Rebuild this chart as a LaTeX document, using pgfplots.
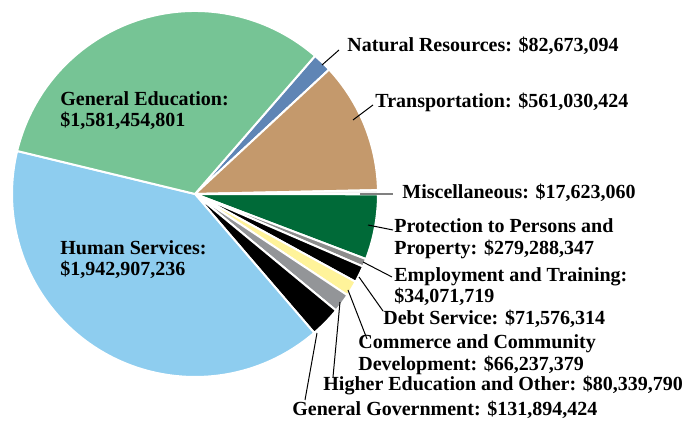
\documentclass[border=0pt]{standalone}
\usepackage{pgfplots}
\usepackage{pgfplotstable}
\pgfplotsset{compat=1.18}
\usepackage{fontspec}
\setmainfont{Liberation Serif}
\definecolor{cNR}{HTML}{5F85B5}
\definecolor{cTR}{HTML}{C4996C}
\definecolor{cMI}{HTML}{F4F4F4}
\definecolor{cPP}{HTML}{006A38}
\definecolor{cET}{HTML}{8C8C8C}
\definecolor{cDS}{HTML}{000000}
\definecolor{cCC}{HTML}{FFF39A}
\definecolor{cHE}{HTML}{939598}
\definecolor{cGG}{HTML}{000000}
\definecolor{cHS}{HTML}{8ECDEF}
\definecolor{cGE}{HTML}{76C495}
% values in millions of dollars, clockwise from the top
\pgfplotstableread[col sep=comma]{
slice,value,col
Natural Resources,82.673094,cNR
Transportation,561.030424,cTR
Miscellaneous,17.623060,cMI
Protection to Persons and Property,279.288347,cPP
Employment and Training,34.071719,cET
Debt Service,71.576314,cDS
Commerce and Community Development,66.237379,cCC
Higher Education and Other,80.339790,cHE
General Government,131.894424,cGG
Human Services,1942.907236,cHS
General Education,1581.454801,cGE
}\piedata
\begin{document}
\begin{tikzpicture}[font=\bfseries\fontsize{10}{10.5}\selectfont]
\begin{axis}[
  hide axis, clip=false,
  x=0.5pt, y=0.5pt,
  xmin=-195, xmax=492, ymin=-229, ymax=194,
]
\coordinate (BL) at (axis cs:-195,-229);
\coordinate (TR) at (axis cs:492,194);
% total
\def\total{0}
\pgfplotsforeachungrouped \i in {0,...,10}{%
  \pgfplotstablegetelem{\i}{value}\of\piedata
  \pgfmathsetmacro\total{\total+\pgfplotsretval}%
  \global\let\total\total
}
\def\startangle{49}
\pgfplotsforeachungrouped \i in {0,...,10}{%
  \pgfplotstablegetelem{\i}{value}\of\piedata \let\v\pgfplotsretval
  \pgfplotstablegetelem{\i}{col}\of\piedata \let\c\pgfplotsretval
  \pgfmathsetmacro\endangle{\startangle-(\v/\total)*360}%
  \edef\temp{\noexpand\fill[overlay, fill=\c, draw=white, line width=1pt, line join=round]
     (axis cs:0,0) -- ++(\startangle:91.5pt)
     arc[start angle=\startangle, end angle=\endangle, radius=91.5pt] -- cycle;}%
  \temp
  \global\let\startangle\endangle
}
% leader lines
\addplot[black, line width=0.5pt] coordinates {(127,129) (144,144)};
\addplot[black, line width=0.5pt] coordinates {(158,74) (178,89)};
\addplot[gray, line width=0.8pt] coordinates {(165,0) (198,0)};
\addplot[black, line width=0.5pt] coordinates {(173,-31) (198,-36)};
\addplot[black, line width=0.5pt] coordinates {(168,-68) (197,-83)};
\addplot[black, line width=0.5pt] coordinates {(164,-83) (188,-117)};
\addplot[black, line width=0.5pt] coordinates {(153,-96) (172,-145)};
\addplot[black, line width=0.5pt] coordinates {(145,-108) (138,-183)};
\addplot[black, line width=0.5pt] coordinates {(122,-139) (110,-206)};
% labels
\node[anchor=base west, inner sep=0pt] at (axis cs:152,142) {Natural Resources: \$82,673,094};
\node[anchor=base west, inner sep=0pt] at (axis cs:180,86) {Transportation: \$561,030,424};
\node[anchor=base west, inner sep=0pt] at (axis cs:207,-5) {Miscellaneous: \$17,623,060};
\node[anchor=base west, inner sep=0pt] at (axis cs:199,-39) {Protection to Persons and};
\node[anchor=base west, inner sep=0pt] at (axis cs:199,-61) {Property: \$279,288,347};
\node[anchor=base west, inner sep=0pt] at (axis cs:199,-88) {Employment and Training:};
\node[anchor=base west, inner sep=0pt] at (axis cs:199,-109) {\$34,071,719};
\node[anchor=base west, inner sep=0pt] at (axis cs:188,-131) {Debt Service: \$71,576,314};
\node[anchor=base west, inner sep=0pt] at (axis cs:163,-155) {Commerce and Community};
\node[anchor=base west, inner sep=0pt] at (axis cs:163,-177) {Development: \$66,237,379};
\node[anchor=base west, inner sep=0pt] at (axis cs:128,-197) {Higher Education and Other: \$80,339,790};
\node[anchor=base west, inner sep=0pt] at (axis cs:97,-222) {General Government: \$131,894,424};
\node[anchor=base west, inner sep=0pt] at (axis cs:-135,88) {General Education:};
\node[anchor=base west, inner sep=0pt] at (axis cs:-135,67) {\$1,581,454,801};
\node[anchor=base west, inner sep=0pt] at (axis cs:-135,-61) {Human Services:};
\node[anchor=base west, inner sep=0pt] at (axis cs:-135,-82) {\$1,942,907,236};
\end{axis}
\pgfresetboundingbox
\path[use as bounding box] (BL) rectangle (TR);
\end{tikzpicture}
\end{document}
